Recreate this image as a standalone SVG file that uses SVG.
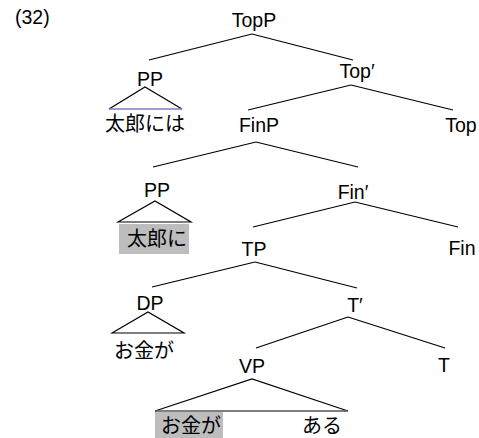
<svg xmlns="http://www.w3.org/2000/svg" width="479" height="438" viewBox="0 0 479 438">
<style>
.t{font-family:"Liberation Sans",Arial,sans-serif;font-size:19.5px;fill:#000}
.j{font-family:"Liberation Sans","Noto Sans CJK JP",sans-serif;font-size:20px;fill:#000}
.c{text-anchor:middle}
.e{stroke:#000;stroke-width:1.2;fill:none}
.hl{fill:#bdbdbd}
</style>
<rect width="479" height="438" fill="#fff"/>
<text class="t" x="15" y="24">(32)</text>
<g id="connectors">
<line class="e" x1="252" y1="34" x2="149" y2="60"/>
<line class="e" x1="252" y1="34" x2="353" y2="60"/>
<line class="e" x1="351" y1="85" x2="248" y2="110"/>
<line class="e" x1="351" y1="85" x2="453" y2="110"/>
<line class="e" x1="256" y1="142" x2="153" y2="167"/>
<line class="e" x1="256" y1="142" x2="358" y2="167"/>
<line class="e" x1="355" y1="202" x2="253" y2="227"/>
<line class="e" x1="355" y1="202" x2="458" y2="227"/>
<line class="e" x1="255" y1="262" x2="152" y2="287"/>
<line class="e" x1="255" y1="262" x2="357" y2="288"/>
<line class="e" x1="348" y1="317" x2="256" y2="348"/>
<line class="e" x1="348" y1="317" x2="445" y2="348"/>
</g>
<g id="TopP"><text class="t c" x="254" y="27">TopP</text></g>
<g id="PP1">
<text class="t c" x="150" y="86">PP</text>
<polyline class="e" points="109,109 145,87 182,109"/>
<line x1="109" y1="109" x2="182" y2="109" stroke="#7b7bc0" stroke-width="1.4"/>
</g>
<g id="taro-niwa"><text class="j c" x="145" y="131">太郎には</text></g>
<g id="TopBar"><text class="t c" x="357" y="78">Top′</text></g>
<g id="FinP"><text class="t c" x="259" y="132">FinP</text></g>
<g id="Top"><text class="t c" x="461" y="132">Top</text></g>
<g id="PP2">
<text class="t c" x="157" y="197">PP</text>
<polygon class="e" points="118,222 155,201 191,222" stroke="#222"/>
</g>
<g id="taro-ni">
<rect class="hl" x="119" y="224" width="70" height="30"/>
<text class="j c" x="157" y="246">太郎に</text>
</g>
<g id="FinBar"><text class="t c" x="353" y="199">Fin′</text></g>
<g id="Fin"><text class="t c" x="462" y="255">Fin</text></g>
<g id="TP"><text class="t c" x="254" y="256">TP</text></g>
<g id="DP">
<text class="t c" x="150" y="310">DP</text>
<polygon class="e" points="112,333 148,312 184,333"/>
</g>
<g id="okane-ga1"><text class="j c" x="144" y="358">お金が</text></g>
<g id="TBar"><text class="t c" x="355" y="312">T′</text></g>
<g id="T"><text class="t c" x="444" y="372">T</text></g>
<g id="VP">
<text class="t c" x="252" y="373">VP</text>
<polyline class="e" points="155,411 252,379 348,411"/>
</g>
<g id="okane-ga2">
<rect class="hl" x="155" y="412" width="68" height="26"/>
<line x1="155" y1="411" x2="348" y2="411" stroke="#555" stroke-width="1.4"/>
<text class="j c" x="191" y="433">お金が</text>
</g>
<g id="aru"><text class="j c" x="322" y="433">ある</text></g>
</svg>
